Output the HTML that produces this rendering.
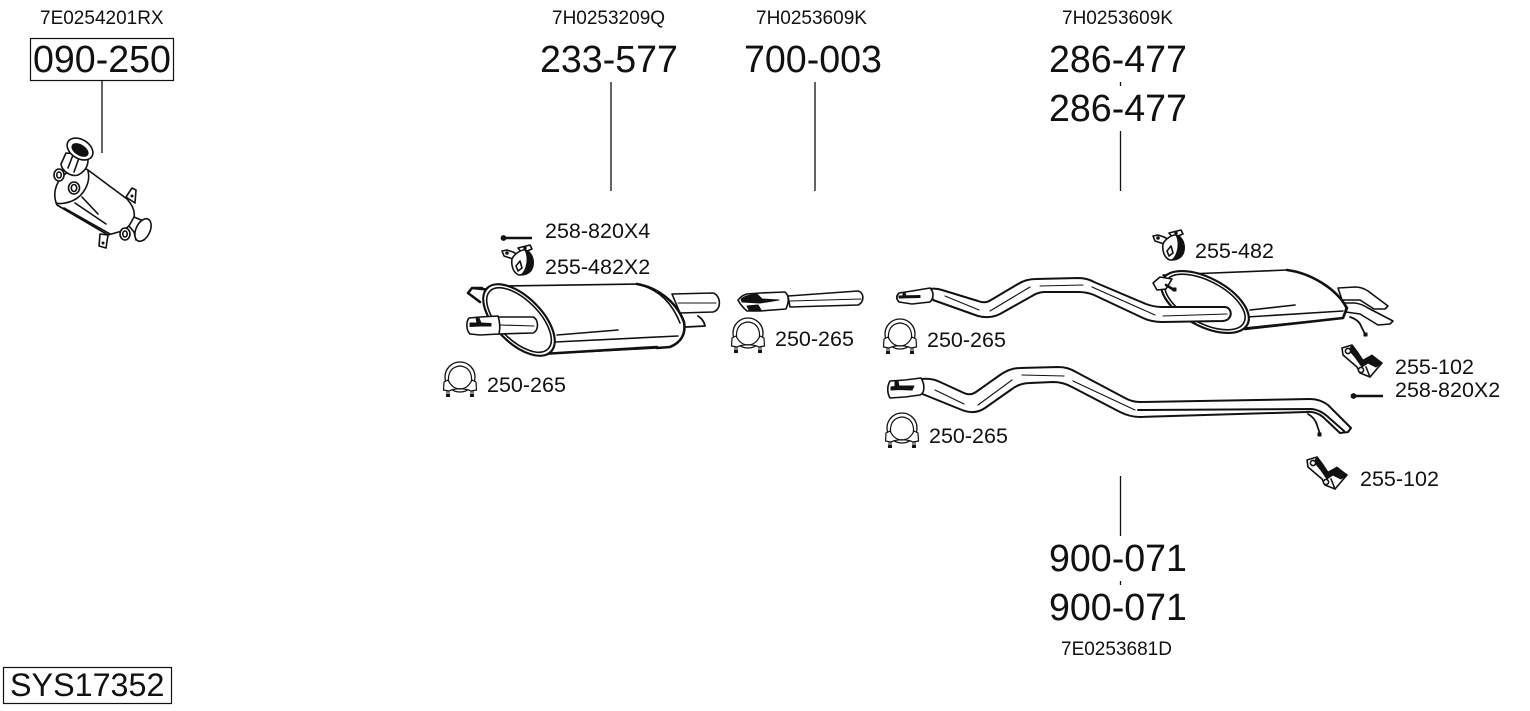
<!DOCTYPE html>
<html>
<head>
<meta charset="utf-8">
<style>
html,body{margin:0;padding:0;background:#fff;width:1530px;height:711px;overflow:hidden}
svg{display:block}
text{font-family:"Liberation Sans",sans-serif;fill:#111}
.big{font-size:37.6px}
.mid{font-size:21.5px}
.num{font-size:19px}
.l{stroke:#111;fill:none;stroke-width:1.6;stroke-linecap:round;stroke-linejoin:round}
.w{fill:#fff;stroke:#111;stroke-width:1.6;stroke-linecap:round;stroke-linejoin:round}
.t{stroke:#111;fill:none;stroke-width:2.6;stroke-linecap:round;stroke-linejoin:round}
.h{stroke:#111;fill:none;stroke-width:1.1;stroke-linecap:round}
.b{fill:#111;stroke:#111;stroke-width:1;stroke-linejoin:round}
</style>
</head>
<body>
<svg width="1530" height="711" viewBox="0 0 1530 711" xmlns="http://www.w3.org/2000/svg">
<defs>
<g id="clamp">
  <circle cx="0" cy="-2" r="15" class="w" style="stroke-width:1.300"/>
  <path class="l" d="M-9 8 C-14 1 -12 -12 0 -13 C12 -12 14 1 9 8" style="stroke-width:1.200"/>
  <path class="w" d="M-16 3 L-12 1 C-9 7 -5 10 0 10 C5 10 9 7 12 1 L16 3 L16.500 11 L11 12 C5 9 -5 9 -11 12 L-16.500 11 Z" style="stroke-width:1.200"/>
  <path class="l" d="M-13 12 L-13 17 M-11 12 L-11 17 M11 12 L11 17 M13 12 L13 17" style="stroke-width:1"/>
  <path class="b" d="M-13.500 15.500 h3 v2 h-3 Z M10.500 15.500 h3 v2 h-3 Z"/>
</g>
<g id="hanger">
  <path class="w" d="M502 251 L507 250 L513 252 L520 256 L519 261 L513 259 L504 256 Z"/>
  <path class="w" d="M518 248 L530 245 L532 249 L522 253 Z"/>
  <path class="w" d="M512 259 C514 254 521 250 524 250 C530 250 534 258 533 265 C532 272 527 275 519 275 C513 273 511 265 512 259 Z"/>
  <path class="b" d="M525 250 C531 251 534 258 533 265 C532 272 527 275 521 275 C527 270 529 258 525 250 Z"/>
  <path class="l" d="M516 266 L520 261 L522 268 L518 271 Z"/>
  <circle cx="507" cy="253" r="1.300" class="b"/>
  <circle cx="525" cy="248" r="1.200" class="b"/>
</g>
<g id="bracket">
  <path class="w" d="M1342 348 L1352 345 L1358 353 L1363 361 L1372 356 L1382 363 L1370 377 L1360 373 L1357 367 L1343 355 Z"/>
  <path class="b" d="M1352 345 L1358 353 L1363 360 L1372 355 L1382 363 L1376 367 L1368 363 L1362 367 L1355 357 L1349 350 Z"/>
  <circle cx="1348" cy="351" r="2.600" class="w"/>
  <circle cx="1361" cy="370" r="2.600" class="w"/>
  <path class="l" d="M1366 367 L1370 377"/>
</g>
</defs>

<!-- frames -->
<rect x="30.500" y="38.500" width="143" height="42" fill="none" stroke="#111" stroke-width="1.200"/>
<rect x="3.500" y="667.500" width="168" height="36" fill="none" stroke="#111" stroke-width="1.200"/>

<!-- leader lines -->
<g stroke="#111" stroke-width="1.300">
  <path d="M102 81V153M611 82V191M815 82V191M1120.500 82V86M1120.500 131V191M1120.500 476V536M1120.500 581V585"/>
</g>

<!-- text -->
<text class="num" x="40" y="24">7E0254201RX</text>
<text class="num" x="552" y="24">7H0253209Q</text>
<text class="num" x="756" y="24">7H0253609K</text>
<text class="num" x="1062" y="24">7H0253609K</text>
<text class="num" x="1061" y="655">7E0253681D</text>
<text class="big" x="33" y="72">090-250</text>
<text class="big" x="540" y="72">233-577</text>
<text class="big" x="744" y="72">700-003</text>
<text class="big" x="1049" y="72">286-477</text>
<text class="big" x="1049" y="121">286-477</text>
<text class="big" x="1049" y="571">900-071</text>
<text class="big" x="1049" y="620">900-071</text>
<text x="10" y="696" style="font-size:32.300px">SYS17352</text>
<text class="mid" x="545" y="238">258-820X4</text>
<text class="mid" x="545" y="274">255-482X2</text>
<text class="mid" x="487" y="392">250-265</text>
<text class="mid" x="775" y="346">250-265</text>
<text class="mid" x="927" y="347">250-265</text>
<text class="mid" x="929" y="443">250-265</text>
<text class="mid" x="1195" y="258">255-482</text>
<text class="mid" x="1395" y="374">255-102</text>
<text class="mid" x="1395" y="397">258-820X2</text>
<text class="mid" x="1360" y="486">255-102</text>

<!-- catalyst -->
<g>
  <path class="w" d="M126 197 L135 203 L136 190 L132 188 Z"/>
  <circle cx="132" cy="196" r="1" class="b"/>
  <path class="w" d="M100 234 L99 246 L106 248 L108 235 Z"/>
  <circle cx="103" cy="243" r="1" class="b"/>
  <path class="w" d="M88 170 L127 199 C137 210 138 222 122 231 L108 235 L57 205 C53 196 54 184 64 175 C72 168 82 166 88 170 Z"/>
  <path class="l" d="M88 171 C91 182 84 196 72 201 C64 204 58 204 56 203"/>
  <path class="l" d="M82 197 L98 214 M75 203 L106 224 M64 208 L110 234"/>
  <path class="w" d="M66 153 L61 164 C62 172 72 177 78 175 C84 172 88 167 88 160 L90 155 Z"/>
  <path class="l" d="M73 155 L68 168 M79 158 L74 172"/>
  <ellipse cx="80" cy="149" rx="14" ry="9.500" transform="rotate(32 80 149)" class="w"/>
  <ellipse cx="80" cy="150" rx="9" ry="5" transform="rotate(32 80 150)" class="b"/>
  <ellipse cx="59" cy="175" rx="5" ry="6" class="w"/>
  <ellipse cx="59" cy="175" rx="2.200" ry="3" class="l"/>
  <ellipse cx="74" cy="188" rx="5.500" ry="6" class="w"/>
  <ellipse cx="74" cy="188" rx="2.700" ry="3.500" class="l"/>
  <path class="w" d="M134 217 L129 226 L134 232 L136 240 L144 240 L146 222 Z"/>
  <ellipse cx="143" cy="230" rx="7" ry="12" transform="rotate(25 143 230)" class="w"/>
  <ellipse cx="125" cy="234" rx="5" ry="6" class="w"/>
  <ellipse cx="125" cy="234" rx="2.200" ry="3" class="l"/>
</g>

<!-- front muffler -->
<g>
  <path class="w" d="M672 294 L713 293 C721 295 722 310 713 312 L680 313 Z"/>
  <path class="h" d="M678 303 L716 303"/>
  <path class="t" d="M686 327 L705 326 Q704 320 698 316" style="stroke-width:1.800"/>
  <path class="t" d="M482 288 L472 288 L468 293 L480 302 M472 288 L492 290"/>
  <path class="w" d="M507 286 L637 284 C655 287 676 300 684 322 C686 333 682 342 670 347 L657 348 L543 354 L518 340 Z"/>
  <path class="t" d="M637 284 C655 287 676 300 684 322 C686 333 682 342 670 347 L657 348"/>
  <path class="t" d="M542 354 L657 347"/>
  <path class="l" d="M555 342 L678 336 M557 335 L618 330"/>
  <path class="l" d="M641 285 C660 291 672 303 680 323"/>
  <ellipse cx="519" cy="320" rx="45" ry="23" transform="rotate(45 519 320)" class="w" style="stroke-width:2.200"/>
  <ellipse cx="519" cy="320" rx="41" ry="20" transform="rotate(45 519 320)" class="l"/>
  <path class="w" d="M498 317 L533 317 C539 319 539 331 533 333 L498 334 Z"/>
  <path class="w" d="M469 318 L480 317 L498 316 Q501 325 499 334 L480 335 L470 334 C466 330 466 322 469 318 Z"/>
  <path class="b" d="M470 323 L480 323 L491 323.500 L491 326 L480 326 L470 326.500 Z"/>
  <path class="b" d="M476 318 L479 318 L481 323 L477 323 Z"/>
  <path class="h" d="M500 325 L534 326"/>
</g>

<!-- mid pipe -->
<g>
  <path class="w" d="M788 296 L858 291 C864 292 865 302 858 305 L790 307 Z"/>
  <path class="h" d="M790 301 L861 299"/>
  <path class="w" d="M738 300 Q742 295 747 294 L760 293 L785 292 Q791 297 786 309 L760 311 L747 311 Q741 306 738 300 Z"/>
  <path class="b" d="M741 299 Q746 295 757 294 L762 299 L779 300 L760 303 L742 302 Z"/>
  <path class="b" d="M747 306 L758 305 L761 310 L749 310 Z"/>
</g>

<!-- upper pipe and rear muffler -->
<g>
  <path class="w" d="M1338 288 L1355 287 Q1362 287 1368 291 L1388 306 L1385 309 L1374 309 L1360 300 L1342 300 Z"/>
  <path class="w" d="M1344 303 L1355 303 Q1362 304 1368 308 L1393 321 L1390 324 L1378 325 L1360 314 L1346 312 Z"/>
  <path class="t" d="M1350 317 Q1359 320 1361 326 L1365 334" style="stroke-width:1.800"/>
  <path class="b" d="M1364 333 h3 v3 h-3 Z"/>
  <path class="w" d="M1163 275 L1287 270 C1310 273 1336 288 1346 308 L1343 318 L1245 328 L1220 325 Z"/>
  <path class="t" d="M1287 270 C1310 273 1336 288 1347 308 L1343 318 L1245 329"/>
  <path class="l" d="M1247 317 L1343 311 M1250 310 L1295 305"/>
  <ellipse cx="1205" cy="302" rx="48" ry="24" transform="rotate(28 1205 302)" class="w" style="stroke-width:2.200"/>
  <ellipse cx="1205" cy="302" rx="44" ry="21" transform="rotate(28 1205 302)" class="l"/>
  <path class="w" d="M1153 283 L1160 277 L1172 279 L1166 289 L1157 290 Z"/>
  <path class="t" d="M1166 285 L1174 290"/>
  <path class="b" d="M1173 288 h3 v3 h-3 Z"/>
  <path class="w" d="M930 289 Q936 288 942 290 L978 301 Q985 304 991 300 L1018 284 Q1026 279 1036 279 L1078 278 Q1087 278 1094 282 L1146 304 Q1154 307 1162 307 L1225 307 C1233 308 1233 320 1223 321 L1162 322 Q1152 322 1143 318 L1094 295 Q1087 292 1078 292 L1045 292 Q1038 292 1032 296 L1000 314 Q990 319 978 316 L933 300 Z" style="stroke-width:2"/>
  <path class="h" d="M945 296 L979 310 M990 311 L1030 287 M1040 286 L1083 285 M1092 287 L1155 315 M1163 316 L1227 314"/>
  <path class="w" d="M899 293 L912 291 L930 288 C934 292 934 298 930 302 L912 304 L899 302 C896 299 896 296 899 293 Z"/>
  <path class="b" d="M899 296 L920 295.500 L920 297.500 L899 298 Z"/>
  <path class="b" d="M903 292.500 L905 292.500 L906 296 L903 296 Z"/>
</g>

<!-- lower pipe -->
<g>
  <path class="w" d="M922 379 Q932 378 940 382 L964 393 Q970 396 976 392 L1000 375 Q1010 368 1020 368 L1058 367 Q1068 367 1076 372 L1125 398 Q1132 402 1140 402 L1310 399 Q1320 399 1328 405 L1351 428 L1348 432 L1340 433 L1323 417 Q1316 411 1306 412 L1140 417 Q1130 417 1120 412 L1072 387 Q1063 382 1053 382 L1030 383 Q1020 383 1012 389 L985 408 Q975 415 962 410 L920 393 Z" style="stroke-width:2"/>
  <path class="h" d="M935 390 L964 404 M978 405 L1012 380 M1022 375 L1064 376 M1073 381 L1135 410"/>
  <path class="t" d="M1138 410 L1312 409 Q1320 410 1327 416 L1344 431" style="stroke-width:2"/>
  <path class="t" d="M1308 414 Q1315 418 1317 425 L1320 434" style="stroke-width:1.800"/>
  <path class="b" d="M1318 433 h3 v3 h-3 Z"/>
  <path class="w" d="M890 381 L905 380 L921 378 C925 384 925 393 920 395 L905 397 L890 398 C887 393 887 386 890 381 Z"/>
  <path class="b" d="M891 387 L899 386 L914 386 L912 390 L899 389.500 L891 390 Z"/>
  <path class="b" d="M895 381 L898 381 L899 387 L895 387 Z"/>
</g>

<!-- clamps -->
<use href="#clamp" x="460" y="379"/>
<use href="#clamp" x="748" y="335"/>
<use href="#clamp" x="900" y="336"/>
<use href="#clamp" x="902" y="430"/>

<!-- hangers -->
<use href="#hanger"/>
<use href="#hanger" transform="translate(651,-15)"/>

<!-- brackets -->
<use href="#bracket"/>
<use href="#bracket" transform="translate(-35,112)"/>

<!-- bolts -->
<g>
  <path d="M504 238 L532 238" stroke="#111" stroke-width="2.600"/>
  <circle cx="503.500" cy="238" r="2.400" class="b"/>
  <path d="M1354 396 L1383 396" stroke="#111" stroke-width="2.600"/>
  <circle cx="1353.500" cy="396" r="2.400" class="b"/>
</g>
</svg>
</body>
</html>
